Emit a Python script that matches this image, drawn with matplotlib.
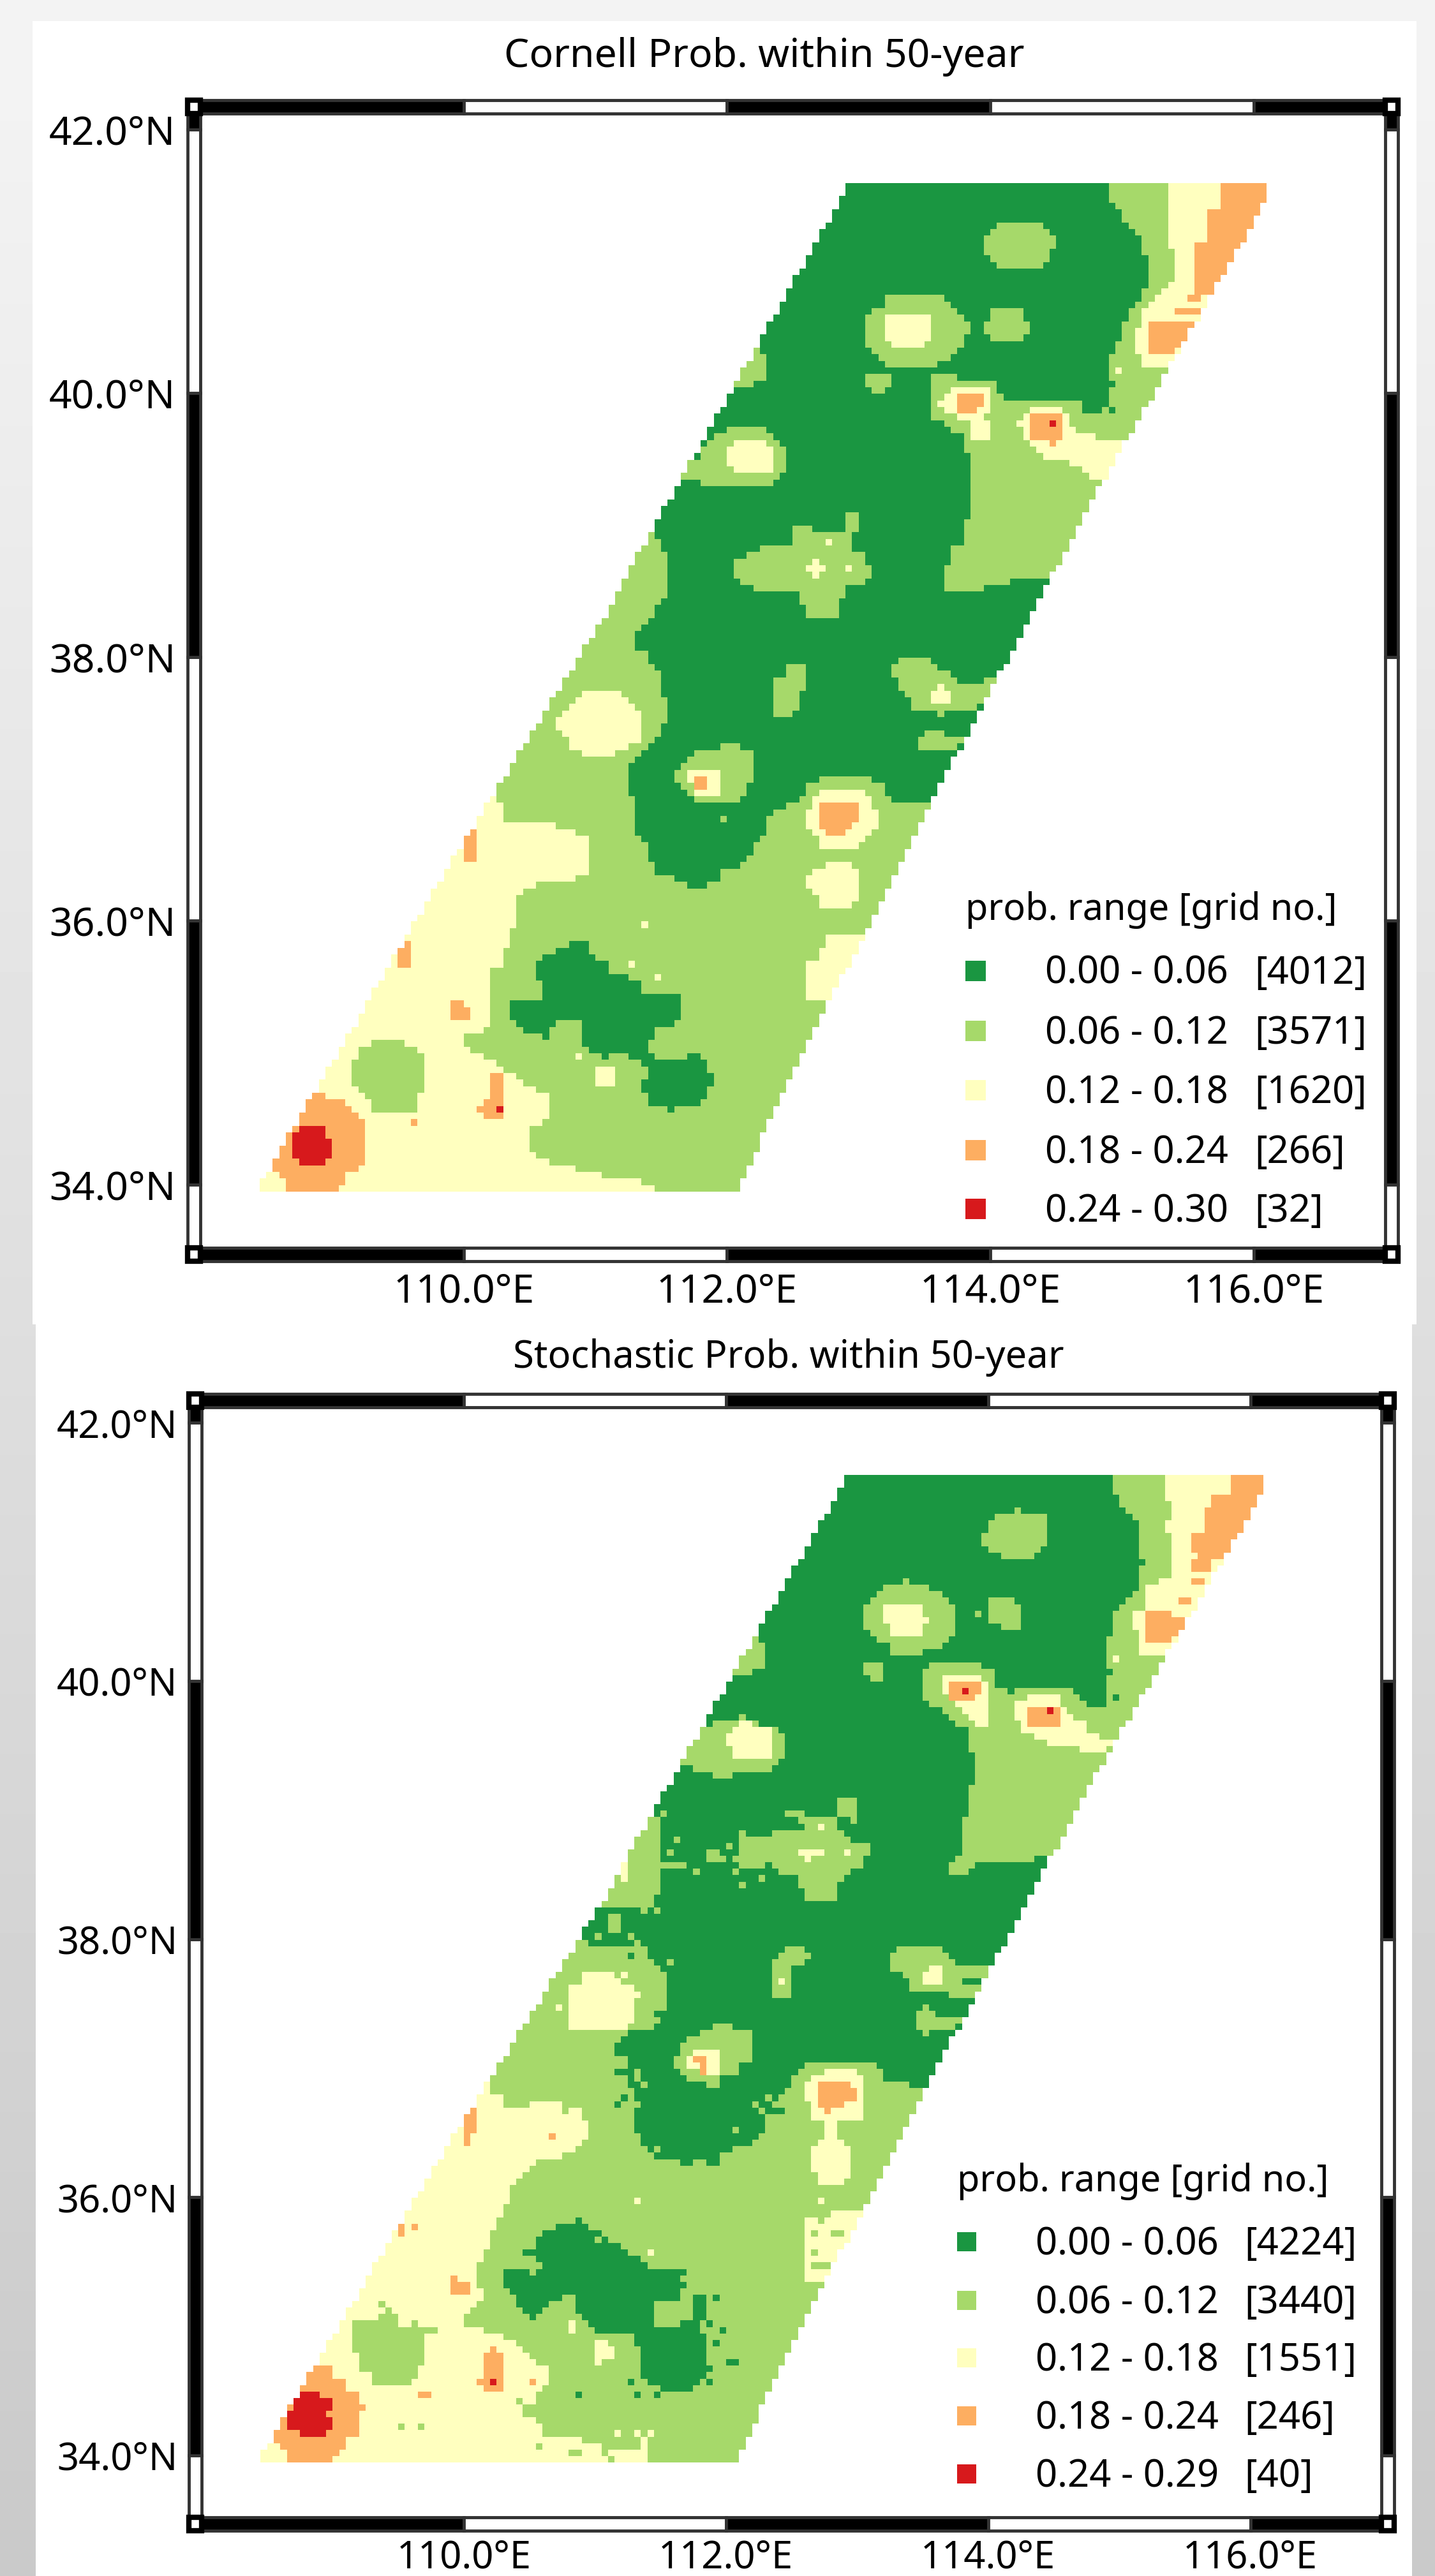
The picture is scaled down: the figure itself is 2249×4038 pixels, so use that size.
import numpy as np
import matplotlib
matplotlib.use("Agg")
import matplotlib.pyplot as plt
from matplotlib.colors import ListedColormap
from matplotlib.patches import Rectangle
from matplotlib.path import Path

plt.rcParams['font.family'] = ['Noto Sans', 'DejaVu Sans']

W, H = 2249, 4038

# probability classes: 0 darkest green ... 4 red
GREEN, LIGHT, YELLOW, ORANGE, RED = 0, 1, 2, 3, 4
CLASS_COLORS = ['#1a9641', '#a6d96a', '#ffffbf', '#fdae61', '#d7191c']

LON_TICKS = [110, 112, 114, 116]
LAT_TICKS = [34, 36, 38, 40, 42]
LON_LABELS = ['110.0°E', '112.0°E', '114.0°E', '116.0°E']
LAT_LABELS = ['34.0°N', '36.0°N', '38.0°N', '40.0°N', '42.0°N']

CORNELL_TITLE = 'Cornell Prob. within 50-year'
STOCH_TITLE = 'Stochastic Prob. within 50-year'
LEGEND_TITLE = 'prob. range [grid no.]'
CORNELL_RANGES = ['0.00 - 0.06', '0.06 - 0.12', '0.12 - 0.18', '0.18 - 0.24', '0.24 - 0.30']
CORNELL_COUNTS = ['[4012]', '[3571]', '[1620]', '[266]', '[32]']
STOCH_RANGES = ['0.00 - 0.06', '0.06 - 0.12', '0.12 - 0.18', '0.18 - 0.24', '0.24 - 0.29']
STOCH_COUNTS = ['[4224]', '[3440]', '[1551]', '[246]', '[40]']

# outline of the gridded area, lon/lat
DOMAIN = [(108.42, 33.94), (109.76, 36.21), (111.12, 38.39), (111.33, 38.78), (112.93, 41.59),
          (116.08, 41.59), (116.08, 41.43), (114.86, 39.34), (113.53, 36.86), (112.30, 34.44),
          (112.08, 33.94)]

# ---------- Cornell panel, regions ----------
C_YELLOW_MAIN = [(107.9, 33.9), (109.76, 36.93), (110.27, 36.93), (110.28, 36.81), (110.33, 36.75), (110.67, 36.73),
                 (110.83, 36.69), (110.92, 36.64), (110.96, 36.54), (110.96, 36.44), (110.92, 36.35), (110.83, 36.29),
                 (110.63, 36.29), (110.48, 36.24), (110.42, 36.18), (110.42, 35.95), (110.37, 35.92), (110.32, 35.78),
                 (110.27, 35.65), (110.18, 35.59), (110.18, 35.20), (110.12, 35.15), (110.02, 35.13), (109.98, 35.06),
                 (110.18, 34.95), (110.37, 34.84), (110.48, 34.75), (110.62, 34.69), (110.67, 34.62), (110.67, 34.49),
                 (110.49, 34.44), (110.48, 34.30), (110.64, 34.16), (111.12, 34.06), (111.38, 34.01), (111.53, 33.9)]
C_ORANGE_SW = [(108.89, 34.80), (108.93, 34.66), (109.06, 34.65), (109.15, 34.58), (109.23, 34.49), (109.27, 34.33),
               (109.23, 34.16), (109.13, 34.08), (109.02, 33.90), (108.73, 33.90), (108.57, 34.10), (108.57, 34.30),
               (108.63, 34.40), (108.68, 34.51), (108.78, 34.65), (108.87, 34.71)]
C_RED_SW = [(108.78, 34.45), (108.91, 34.45), (108.97, 34.35), (109.02, 34.29), (108.93, 34.15), (108.77, 34.15),
            (108.68, 34.27), (108.68, 34.35)]
C_LIGHT_OVAL = [(109.34, 35.09), (109.52, 35.09), (109.63, 35.03), (109.72, 34.94), (109.72, 34.76), (109.66, 34.66),
                (109.62, 34.55), (109.34, 34.55), (109.25, 34.66), (109.12, 34.85), (109.17, 34.96), (109.25, 35.05)]
C_ORANGE_A = [(109.52, 35.84), (109.58, 35.84), (109.58, 35.65), (109.52, 35.65)]
C_ORANGE_B = [(110.07, 36.69), (110.12, 36.69), (110.12, 36.44), (110.02, 36.44), (110.02, 36.40), (109.98, 36.40),
              (109.98, 36.54), (110.02, 36.64)]
C_ORANGE_C = [(109.92, 35.40), (110.01, 35.40), (110.01, 35.34), (110.07, 35.34), (110.07, 35.24), (109.92, 35.24)]
C_ORANGE_D = [(110.19, 34.80), (110.24, 34.84), (110.32, 34.80), (110.32, 34.49), (110.17, 34.49), (110.17, 34.54),
              (110.12, 34.54), (110.12, 34.59), (110.17, 34.59)]
C_YELLOW_E = [(110.98, 34.89), (111.12, 34.89), (111.17, 34.83), (111.17, 34.76), (110.98, 34.76)]
C_GREEN_SW = [(110.83, 35.84), (110.92, 35.84), (110.97, 35.75), (111.04, 35.71), (111.14, 35.60), (111.23, 35.59),
              (111.32, 35.54), (111.38, 35.44), (111.62, 35.44), (111.67, 35.39), (111.67, 35.25), (111.57, 35.20),
              (111.47, 35.20), (111.47, 35.10), (111.42, 35.07), (111.42, 35.00), (111.47, 34.95), (111.72, 34.95),
              (111.73, 35.00), (111.78, 35.00), (111.83, 34.95), (111.83, 34.85), (111.88, 34.84), (111.88, 34.75),
              (111.83, 34.74), (111.83, 34.64), (111.77, 34.59), (111.62, 34.59), (111.62, 34.55), (111.53, 34.55),
              (111.52, 34.59), (111.42, 34.60), (111.37, 34.70), (111.37, 34.79), (111.42, 34.80), (111.42, 34.89),
              (111.37, 34.90), (111.37, 34.95), (111.27, 34.95), (111.26, 35.00), (111.12, 35.00), (111.10, 34.95),
              (110.99, 35.00), (110.92, 35.05), (110.92, 35.20), (110.88, 35.25), (110.73, 35.25), (110.68, 35.20),
              (110.62, 35.10), (110.58, 35.10), (110.57, 35.15), (110.48, 35.15), (110.42, 35.20), (110.37, 35.25),
              (110.37, 35.39), (110.62, 35.39), (110.62, 35.54), (110.53, 35.55), (110.53, 35.64), (110.58, 35.69),
              (110.63, 35.75), (110.73, 35.79)]
C_GREEN_MAIN = [(110.9, 38.94), (111.42, 38.94), (111.52, 38.89), (111.52, 38.80), (111.57, 38.78), (111.57, 38.44),
                (111.48, 38.40), (111.42, 38.29), (111.32, 38.19), (111.32, 38.07), (111.37, 38.03), (111.42, 37.98),
                (111.43, 37.88), (111.48, 37.87), (111.52, 37.80), (111.52, 37.70), (111.57, 37.69), (111.57, 37.49),
                (111.52, 37.48), (111.52, 37.40), (111.42, 37.35), (111.37, 37.28), (111.27, 37.18), (111.27, 36.95),
                (111.32, 36.93), (111.32, 36.65), (111.37, 36.64), (111.38, 36.50), (111.42, 36.49), (111.43, 36.40),
                (111.48, 36.35), (111.58, 36.34), (111.58, 36.29), (111.67, 36.29), (111.69, 36.24), (111.83, 36.24),
                (111.83, 36.29), (111.93, 36.29), (111.98, 36.39), (112.08, 36.40), (112.12, 36.44), (112.22, 36.50),
                (112.22, 36.59), (112.27, 36.65), (112.32, 36.68), (112.32, 36.80), (112.38, 36.85), (112.53, 36.90),
                (112.57, 36.95), (112.62, 37.03), (112.72, 37.08), (113.08, 37.08), (113.08, 37.05), (113.18, 37.03),
                (113.23, 36.95), (113.29, 36.90), (113.53, 36.90), (115.0, 36.90), (115.0, 38.58), (114.13, 38.58),
                (114.13, 38.54), (113.97, 38.54), (113.97, 38.49), (113.67, 38.49), (113.67, 38.69), (113.72, 38.69),
                (113.72, 38.86), (113.78, 38.87), (113.78, 39.04), (113.83, 39.04), (113.83, 39.19), (113.87, 39.19),
                (113.87, 39.54), (113.78, 39.58), (113.78, 39.68), (113.69, 39.74), (113.59, 39.80), (113.54, 39.85),
                (113.53, 40.09), (113.59, 40.14), (114.01, 40.09), (114.13, 39.95), (114.66, 39.94), (114.73, 39.85),
                (114.85, 39.83), (114.88, 39.92), (114.88, 40.29), (114.97, 40.32), (114.98, 40.48), (115.05, 40.60),
                (115.12, 40.69), (115.18, 40.79), (115.18, 41.03), (115.12, 41.19), (115.03, 41.31), (114.93, 41.43),
                (114.88, 41.46), (114.88, 41.65), (112.0, 41.65)]
C_LIGHT_STRIP = [(112.23, 40.34), (112.31, 40.29), (112.31, 40.09), (112.22, 40.09), (112.22, 40.04), (112.0, 40.04),
                 (112.0, 40.25), (112.18, 40.25)]
C_LIGHT_A = [(114.08, 41.29), (114.37, 41.29), (114.48, 41.19), (114.48, 41.08), (114.43, 40.99), (114.32, 40.94),
             (114.08, 40.94), (113.97, 41.06), (113.97, 41.19)]
C_LIGHT_B = [(113.23, 40.73), (113.62, 40.73), (113.71, 40.65), (113.83, 40.54), (113.83, 40.43), (113.78, 40.34),
             (113.67, 40.25), (113.57, 40.19), (113.23, 40.19), (113.13, 40.29), (113.07, 40.35), (113.07, 40.59),
             (113.18, 40.65)]
C_YELLOW_B = [(113.23, 40.59), (113.52, 40.59), (113.57, 40.46), (113.49, 40.34), (113.28, 40.34), (113.18, 40.46)]
C_LIGHT_C = [(114.03, 40.63), (114.22, 40.63), (114.32, 40.51), (114.22, 40.39), (114.03, 40.39), (113.93, 40.51)]
C_LIGHT_D = [(113.07, 40.14), (113.23, 40.14), (113.23, 40.05), (113.16, 39.98), (113.13, 39.98), (113.07, 40.05)]
C_LIGHT_E = [(112.04, 39.74), (112.28, 39.74), (112.47, 39.58), (112.47, 39.44), (112.31, 39.29), (111.82, 39.29),
             (111.82, 39.35), (111.6, 39.35), (111.6, 39.49), (111.77, 39.49), (111.84, 39.64), (111.92, 39.68)]
C_YELLOW_E2 = [(112.06, 39.63), (112.31, 39.63), (112.37, 39.58), (112.37, 39.44), (112.28, 39.39), (112.08, 39.39),
               (111.97, 39.54)]
C_LIGHT_STAR = [(112.88, 39.08), (113.01, 39.08), (113.01, 38.95), (112.93, 38.89), (112.93, 38.80), (113.02, 38.78),
                (113.12, 38.67), (113.02, 38.54), (112.93, 38.54), (112.88, 38.44), (112.82, 38.29), (112.64, 38.29),
                (112.54, 38.44), (112.54, 38.49), (112.28, 38.49), (112.13, 38.54), (112.03, 38.67), (112.08, 38.74),
                (112.28, 38.84), (112.54, 38.84), (112.48, 38.89), (112.48, 38.98), (112.62, 38.98), (112.67, 38.94),
                (112.88, 38.94)]
C_LIGHT_G = [(112.48, 37.94), (112.61, 37.94), (112.61, 37.80), (112.54, 37.73), (112.52, 37.54), (112.37, 37.54),
             (112.37, 37.83), (112.43, 37.84)]
C_LIGHT_H = [(113.33, 37.99), (113.52, 37.99), (113.64, 37.89), (113.79, 37.81), (114.1, 37.83), (113.93, 37.64),
             (113.88, 37.60), (113.67, 37.60), (113.67, 37.54), (113.59, 37.54), (113.57, 37.60), (113.42, 37.60),
             (113.37, 37.69), (113.28, 37.75), (113.27, 37.94)]
C_YELLOW_H = [(113.54, 37.73), (113.59, 37.78), (113.64, 37.78), (113.64, 37.73), (113.72, 37.73), (113.72, 37.64),
              (113.54, 37.64)]
C_LIGHT_I = [(113.49, 37.44), (113.62, 37.44), (113.64, 37.40), (113.9, 37.40), (113.72, 37.30), (113.49, 37.30),
             (113.43, 37.36)]
C_LIGHT_J = [(111.94, 37.34), (112.07, 37.34), (112.09, 37.29), (112.17, 37.28), (112.22, 37.23), (112.22, 37.05),
             (112.17, 37.03), (112.12, 36.95), (112.08, 36.90), (111.93, 36.90), (111.91, 36.85), (111.89, 36.85),
             (111.88, 36.90), (111.73, 36.90), (111.72, 36.95), (111.67, 37.00), (111.62, 37.05), (111.62, 37.13),
             (111.67, 37.18), (111.72, 37.23), (111.73, 37.29), (111.93, 37.29)]
C_YELLOW_J = [(111.72, 37.14), (111.96, 37.14), (111.96, 37.00), (111.91, 36.95), (111.78, 36.95), (111.72, 37.05)]
C_ORANGE_J = [(111.77, 37.09), (111.87, 37.09), (111.87, 36.94), (111.83, 36.94), (111.83, 37.00), (111.77, 37.00)]
C_YELLOW_K = [(112.72, 37.00), (113.03, 37.00), (113.13, 36.84), (113.13, 36.71), (113.03, 36.59), (112.97, 36.54),
              (112.73, 36.54), (112.62, 36.71), (112.62, 36.86), (112.67, 36.95)]
C_ORANGE_K = [(112.72, 36.88), (112.98, 36.88), (112.98, 36.84), (113.02, 36.84), (113.02, 36.75), (112.97, 36.74),
              (112.92, 36.70), (112.92, 36.65), (112.77, 36.65), (112.77, 36.70), (112.72, 36.71)]
C_YELLOW_L = [(112.77, 36.44), (112.93, 36.44), (113.02, 36.34), (113.02, 36.21), (112.92, 36.10), (112.73, 36.10),
              (112.62, 36.26), (112.62, 36.34)]
C_YELLOW_M = [(112.62, 35.70), (112.68, 35.71), (112.72, 35.80), (112.78, 35.89), (113.3, 35.89), (113.3, 35.39),
              (112.62, 35.39)]
C_YELLOW_N = [(110.94, 37.74), (111.17, 37.74), (111.27, 37.65), (111.37, 37.59), (111.37, 37.44), (111.32, 37.35),
              (111.23, 37.30), (111.12, 37.24), (110.92, 37.24), (110.92, 37.29), (110.83, 37.30), (110.72, 37.44),
              (110.72, 37.54), (110.83, 37.65), (110.88, 37.69)]
C_YELLOW_NE = [(115.33, 41.65), (115.33, 41.09), (115.38, 41.08), (115.38, 40.85), (115.24, 40.74), (115.19, 40.66),
               (115.14, 40.54), (115.08, 40.45), (115.08, 40.34), (115.17, 40.20), (115.34, 40.19), (116.09, 40.19),
               (116.43, 41.65)]
C_ORANGE_NE = [(115.73, 41.65), (115.73, 41.39), (115.63, 41.37), (115.63, 41.14), (115.57, 41.12), (115.57, 40.89),
               (115.53, 40.88), (115.53, 40.74), (116.43, 40.74), (116.43, 41.65)]
C_ORANGE_BAR1 = [(115.48, 40.73), (115.62, 40.73), (115.62, 40.69), (115.48, 40.69)]
C_ORANGE_BAR2 = [(115.42, 40.64), (115.58, 40.64), (115.58, 40.59), (115.42, 40.59)]
C_ORANGE_NE2 = [(115.23, 40.53), (115.54, 40.53), (115.48, 40.38), (115.38, 40.29), (115.24, 40.29), (115.19, 40.37),
                (115.19, 40.48)]
C_YELLOW_O = [(113.67, 40.00), (113.78, 40.06), (113.95, 40.06), (114.02, 39.98), (114.02, 39.84), (113.95, 39.81),
              (114.02, 39.72), (114.02, 39.65), (113.88, 39.65), (113.83, 39.80), (113.67, 39.84), (113.62, 39.89),
              (113.62, 39.95)]
C_ORANGE_O = [(113.73, 39.98), (113.97, 39.98), (113.97, 39.89), (113.91, 39.88), (113.91, 39.84), (113.73, 39.84)]
C_YELLOW_P = [(114.32, 39.88), (114.54, 39.89), (114.64, 39.74), (114.73, 39.68), (115.0, 39.63), (114.90, 39.34),
              (114.75, 39.35), (114.68, 39.43), (114.54, 39.50), (114.42, 39.51), (114.24, 39.65), (114.22, 39.80)]
C_ORANGE_P = [(114.32, 39.83), (114.53, 39.83), (114.57, 39.78), (114.57, 39.66), (114.52, 39.65), (114.52, 39.59),
              (114.48, 39.59), (114.47, 39.64), (114.32, 39.65)]
C_YELLOW_Q = [(114.94, 40.18), (115.02, 40.18), (115.02, 40.13), (114.94, 40.13)]

C_LAYERS = [(YELLOW, C_YELLOW_MAIN), (ORANGE, C_ORANGE_SW), (RED, C_RED_SW), (LIGHT, C_LIGHT_OVAL),
            (ORANGE, C_ORANGE_A), (ORANGE, C_ORANGE_B), (ORANGE, C_ORANGE_C), (ORANGE, C_ORANGE_D),
            (YELLOW, C_YELLOW_E), (GREEN, C_GREEN_MAIN), (GREEN, C_GREEN_SW), (LIGHT, C_LIGHT_STRIP),
            (LIGHT, C_LIGHT_A), (LIGHT, C_LIGHT_B), (YELLOW, C_YELLOW_B), (LIGHT, C_LIGHT_C), (LIGHT, C_LIGHT_D),
            (LIGHT, C_LIGHT_E), (YELLOW, C_YELLOW_E2), (LIGHT, C_LIGHT_STAR), (LIGHT, C_LIGHT_G), (LIGHT, C_LIGHT_H),
            (YELLOW, C_YELLOW_H), (LIGHT, C_LIGHT_I), (LIGHT, C_LIGHT_J), (YELLOW, C_YELLOW_J), (ORANGE, C_ORANGE_J),
            (YELLOW, C_YELLOW_K), (ORANGE, C_ORANGE_K), (YELLOW, C_YELLOW_L), (YELLOW, C_YELLOW_M), (YELLOW, C_YELLOW_N),
            (YELLOW, C_YELLOW_NE), (ORANGE, C_ORANGE_NE), (ORANGE, C_ORANGE_BAR1), (ORANGE, C_ORANGE_BAR2),
            (ORANGE, C_ORANGE_NE2), (YELLOW, C_YELLOW_O), (ORANGE, C_ORANGE_O), (YELLOW, C_YELLOW_P), (ORANGE, C_ORANGE_P),
            (YELLOW, C_YELLOW_Q)]
C_CELLS = [(YELLOW, [(111.35, 35.97), (111.25, 35.67), (111.45, 35.57), (110.85, 34.97), (112.75, 38.87), (112.94, 38.67),
                     (112.65, 38.67), (112.60, 38.67), (112.70, 38.67), (112.65, 38.72), (112.65, 38.62)]),
           (ORANGE, [(109.64, 34.47)]),
           (RED, [(110.25, 34.57), (114.45, 39.76)]),
           (LIGHT, [(111.95, 36.77)]),
           (GREEN, [(114.90, 40.06), (114.90, 39.86)])]

# ---------- Stochastic panel ----------
S_YELLOW_MAIN = [(107.9, 33.9), (109.76, 36.89), (110.19, 36.89), (110.21, 36.79), (110.31, 36.77), (110.31, 36.70),
                 (110.46, 36.69), (110.52, 36.74), (110.72, 36.73), (110.76, 36.66), (110.86, 36.69), (110.95, 36.58),
                 (110.95, 36.46), (110.91, 36.41), (110.83, 36.35), (110.70, 36.30), (110.69, 36.24), (110.66, 36.30),
                 (110.53, 36.26), (110.46, 36.18), (110.39, 36.15), (110.33, 35.99), (110.31, 35.86), (110.23, 35.79),
                 (110.21, 35.70), (110.12, 35.49), (110.11, 35.29), (110.16, 35.33), (110.16, 35.25), (110.07, 35.13),
                 (110.00, 35.08), (109.98, 34.99), (110.12, 34.98), (110.31, 34.93), (110.49, 34.77), (110.63, 34.67),
                 (110.65, 34.56), (110.57, 34.48), (110.55, 34.39), (110.47, 34.38), (110.47, 34.30), (110.57, 34.25),
                 (110.61, 34.16), (110.90, 34.13), (111.06, 34.06), (111.42, 34.04), (111.42, 33.9)]
S_ORANGE_SW = [(108.88, 34.79), (108.91, 34.70), (109.00, 34.70), (109.02, 34.61), (109.11, 34.60), (109.12, 34.49),
               (109.21, 34.49), (109.21, 34.40), (109.26, 34.38), (109.21, 34.34), (109.21, 34.16), (109.12, 34.14),
               (109.10, 34.05), (109.02, 34.00), (109.02, 33.90), (108.67, 33.90), (108.65, 34.04), (108.56, 34.11),
               (108.56, 34.28), (108.62, 34.39), (108.65, 34.50), (108.76, 34.57), (108.76, 34.66), (108.86, 34.70)]
S_RED_SW = [(108.71, 34.55), (108.76, 34.55), (108.76, 34.47), (108.86, 34.47), (108.88, 34.50), (108.92, 34.47),
            (108.92, 34.45), (109.01, 34.43), (109.01, 34.34), (108.96, 34.32), (109.01, 34.20), (108.92, 34.16),
            (108.78, 34.14), (108.74, 34.20), (108.65, 34.21), (108.65, 34.30), (108.71, 34.39)]
S_LIGHT_OVAL = [(109.42, 35.13), (109.46, 35.09), (109.54, 35.00), (109.66, 35.05), (109.71, 34.93), (109.71, 34.81),
                (109.67, 34.67), (109.60, 34.55), (109.32, 34.55), (109.28, 34.64), (109.20, 34.67), (109.16, 34.85),
                (109.11, 34.88), (109.16, 34.95), (109.16, 35.05), (109.34, 35.05)]
S_ORANGE_A = [(109.52, 35.84), (109.56, 35.84), (109.56, 35.70), (109.52, 35.70)]
S_ORANGE_B = [(110.08, 36.69), (110.11, 36.69), (110.11, 36.49), (110.06, 36.49), (110.06, 36.40), (110.01, 36.40),
              (110.01, 36.63)]
S_ORANGE_C = [(109.92, 35.39), (109.96, 35.39), (109.96, 35.34), (110.06, 35.34), (110.06, 35.25), (109.92, 35.25)]
S_ORANGE_D = [(110.17, 34.78), (110.23, 34.84), (110.30, 34.78), (110.31, 34.49), (110.17, 34.50), (110.17, 34.54),
              (110.12, 34.55), (110.12, 34.58), (110.17, 34.60)]
S_YELLOW_E = [(110.98, 34.83), (111.04, 34.89), (111.16, 34.83), (111.16, 34.76), (111.06, 34.76), (111.04, 34.70),
              (110.98, 34.76)]
S_GREEN_SW = [(110.90, 35.84), (110.94, 35.78), (111.06, 35.74), (111.10, 35.64), (111.26, 35.60), (111.26, 35.54),
              (111.36, 35.53), (111.38, 35.45), (111.58, 35.45), (111.58, 35.49), (111.66, 35.45), (111.66, 35.20),
              (111.46, 35.17), (111.46, 34.99), (111.62, 34.99), (111.66, 35.04), (111.79, 35.03), (111.81, 34.99),
              (111.87, 34.85), (111.87, 34.61), (111.79, 34.54), (111.69, 34.49), (111.54, 34.50), (111.36, 34.60),
              (111.36, 34.72), (111.28, 34.95), (111.04, 34.95), (110.94, 35.00), (110.86, 35.11), (110.86, 35.25),
              (110.76, 35.25), (110.65, 35.15), (110.54, 35.05), (110.43, 35.11), (110.39, 35.23), (110.31, 35.32),
              (110.31, 35.45), (110.49, 35.45), (110.51, 35.40), (110.61, 35.44), (110.61, 35.50), (110.47, 35.57),
              (110.55, 35.63), (110.59, 35.73), (110.78, 35.80)]
S_GREEN_BAR = [(111.77, 35.24), (111.83, 35.24), (111.83, 35.09), (111.88, 35.05), (111.88, 34.99), (111.77, 35.05)]
S_GREEN_MAIN = [(114.93, 41.68), (114.97, 41.43), (115.05, 41.33), (115.13, 41.25), (115.13, 41.05), (115.17, 40.99),
                (115.17, 40.73), (115.13, 40.72), (115.07, 40.62), (114.97, 40.54), (114.97, 40.39), (114.88, 40.29),
                (114.88, 39.79), (114.77, 39.79), (114.68, 39.91), (114.62, 39.95), (114.21, 39.95), (114.17, 39.91),
                (114.07, 39.95), (114.03, 40.07), (113.90, 40.14), (113.56, 40.14), (113.52, 40.09), (113.52, 39.84),
                (113.64, 39.79), (113.72, 39.69), (113.86, 39.60), (113.87, 39.44), (113.91, 39.31), (113.91, 39.22),
                (113.84, 39.13), (113.83, 38.95), (113.78, 38.87), (113.78, 38.65), (113.72, 38.60), (113.72, 38.50),
                (113.87, 38.50), (113.89, 38.59), (114.23, 38.59), (114.42, 38.64), (115.0, 38.64), (115.0, 36.85),
                (113.53, 36.85), (113.21, 36.90), (113.16, 37.04), (112.63, 37.06), (112.60, 37.00), (112.50, 36.94),
                (112.50, 36.87), (112.44, 36.79), (112.30, 36.63), (112.30, 36.55), (112.26, 36.46), (112.17, 36.41),
                (112.06, 36.39), (112.05, 36.35), (111.96, 36.36), (111.92, 36.24), (111.88, 36.24), (111.86, 36.30),
                (111.77, 36.30), (111.76, 36.24), (111.67, 36.24), (111.65, 36.30), (111.47, 36.30), (111.42, 36.35),
                (111.34, 36.41), (111.31, 36.58), (111.27, 36.63), (111.31, 36.79), (111.27, 36.87), (111.27, 36.94),
                (111.23, 37.09), (111.16, 37.12), (111.16, 37.18), (111.31, 37.30), (111.42, 37.30), (111.52, 37.41),
                (111.57, 37.57), (111.57, 37.69), (111.52, 37.76), (111.43, 37.80), (111.42, 37.91), (111.36, 37.97),
                (111.36, 38.03), (111.27, 37.95), (111.10, 37.95), (110.94, 37.97), (110.6, 38.08), (110.7, 38.24),
                (111.41, 38.24), (111.47, 38.28), (111.47, 38.43), (111.52, 38.54), (111.52, 38.94), (110.9, 38.94),
                (112.0, 41.68)]
S_LIGHT_A = [(114.07, 41.29), (114.23, 41.33), (114.26, 41.29), (114.42, 41.29), (114.47, 41.18), (114.47, 41.10),
             (114.42, 41.05), (114.32, 40.95), (114.17, 40.95), (114.03, 41.00), (113.97, 41.06), (113.97, 41.14),
             (114.03, 41.24)]
S_LIGHT_B = [(113.38, 40.78), (113.41, 40.72), (113.56, 40.72), (113.72, 40.62), (113.76, 40.53), (113.76, 40.43),
             (113.72, 40.34), (113.65, 40.25), (113.33, 40.19), (113.27, 40.19), (113.22, 40.29), (113.11, 40.34),
             (113.06, 40.40), (113.06, 40.58), (113.14, 40.66), (113.22, 40.72)]
S_YELLOW_B = [(113.22, 40.58), (113.47, 40.58), (113.53, 40.47), (113.47, 40.36), (113.27, 40.34), (113.22, 40.45)]
S_LIGHT_C = [(114.02, 40.64), (114.21, 40.64), (114.26, 40.56), (114.26, 40.45), (114.21, 40.39), (114.12, 40.39),
             (114.10, 40.43), (114.02, 40.45)]
S_LIGHT_D = [(113.07, 40.14), (113.21, 40.14), (113.21, 40.07), (113.16, 39.98), (113.13, 39.98), (113.07, 40.06)]
S_LIGHT_E = [(111.92, 39.69), (112.07, 39.69), (112.12, 39.74), (112.16, 39.69), (112.37, 39.65), (112.47, 39.58),
             (112.47, 39.44), (112.41, 39.39), (112.32, 39.30), (112.07, 39.30), (112.06, 39.25), (111.93, 39.25),
             (111.82, 39.30), (111.6, 39.39), (111.6, 39.52), (111.82, 39.63)]
S_YELLOW_E2 = [(112.12, 39.69), (112.37, 39.63), (112.37, 39.46), (112.32, 39.39), (112.07, 39.39), (112.01, 39.50),
               (112.02, 39.60)]
S_LIGHT_STAR = [(112.61, 38.94), (112.82, 38.94), (112.91, 38.81), (112.97, 38.73), (113.08, 38.73), (113.12, 38.67),
                (113.08, 38.64), (113.02, 38.54), (112.91, 38.50), (112.82, 38.39), (112.86, 38.35), (112.82, 38.29),
                (112.61, 38.29), (112.57, 38.40), (112.52, 38.50), (112.41, 38.50), (112.32, 38.59), (112.32, 38.54),
                (112.12, 38.54), (112.12, 38.83), (112.32, 38.78), (112.37, 38.83), (112.57, 38.83)]
S_LIGHT_STAR2 = [(112.87, 39.09), (113.02, 39.09), (113.02, 38.95), (112.95, 38.89), (112.92, 38.95), (112.87, 38.95)]
S_LIGHT_STAR3 = [(112.47, 38.98), (112.61, 38.98), (112.61, 38.95), (112.55, 38.89), (112.52, 38.95), (112.47, 38.95)]
S_LIGHT_RECT = [(111.84, 38.68), (111.96, 38.68), (111.96, 38.59), (111.84, 38.59)]
S_LIGHT_G = [(112.47, 37.93), (112.61, 37.93), (112.61, 37.80), (112.52, 37.79), (112.52, 37.55), (112.37, 37.55),
             (112.37, 37.83), (112.43, 37.90)]
S_LIGHT_H = [(113.31, 37.93), (113.47, 37.93), (113.50, 37.98), (113.53, 37.93), (113.62, 37.93), (113.78, 37.79),
             (114.1, 37.79), (113.87, 37.55), (113.44, 37.60), (113.34, 37.71), (113.27, 37.77), (113.27, 37.90)]
S_GREEN_H = [(113.78, 37.70), (114.0, 37.70), (114.0, 37.65), (113.78, 37.65)]
S_YELLOW_H = [(113.52, 37.74), (113.56, 37.79), (113.62, 37.79), (113.66, 37.74), (113.66, 37.64), (113.52, 37.64)]
S_LIGHT_I = [(113.47, 37.44), (113.53, 37.49), (113.56, 37.44), (113.62, 37.39), (113.9, 37.39), (113.72, 37.29),
             (113.56, 37.29), (113.56, 37.24), (113.53, 37.24), (113.47, 37.29)]
S_LIGHT_J = [(111.94, 37.34), (112.01, 37.34), (112.06, 37.29), (112.17, 37.29), (112.22, 37.22), (112.22, 37.05),
             (112.11, 37.03), (112.11, 36.94), (111.97, 36.94), (111.92, 36.85), (111.88, 36.85), (111.86, 36.89),
             (111.71, 36.89), (111.67, 36.95), (111.62, 37.01), (111.62, 37.08), (111.67, 37.11), (111.67, 37.20),
             (111.71, 37.24), (111.81, 37.24), (111.82, 37.29)]
S_YELLOW_J = [(111.76, 37.14), (111.96, 37.14), (111.96, 36.94), (111.81, 36.94), (111.77, 36.98), (111.71, 37.02),
              (111.71, 37.08)]
S_ORANGE_J = [(111.76, 37.08), (111.87, 37.08), (111.87, 36.94), (111.82, 36.94), (111.82, 37.04), (111.76, 37.04)]
S_YELLOW_K = [(112.77, 36.98), (112.96, 36.98), (113.07, 36.94), (113.07, 36.71), (113.01, 36.59), (112.85, 36.59),
              (112.84, 36.53), (112.87, 36.45), (112.96, 36.35), (112.96, 36.15), (112.85, 36.10), (112.72, 36.10),
              (112.67, 36.18), (112.67, 36.37), (112.76, 36.47), (112.77, 36.58), (112.67, 36.61), (112.62, 36.74),
              (112.62, 36.89), (112.70, 36.94)]
S_ORANGE_K = [(112.71, 36.88), (112.96, 36.88), (112.97, 36.83), (113.01, 36.83), (113.01, 36.74), (112.96, 36.74),
              (112.81, 36.69), (112.81, 36.65), (112.76, 36.65), (112.76, 36.69), (112.71, 36.70)]
S_YELLOW_N = [(110.91, 37.73), (111.16, 37.73), (111.22, 37.65), (111.31, 37.62), (111.31, 37.36), (111.18, 37.28),
              (110.82, 37.30), (110.77, 37.38), (110.81, 37.48), (110.81, 37.62), (110.91, 37.68)]
S_YELLOW_M = [(112.62, 35.84), (112.76, 35.80), (112.80, 35.88), (113.05, 35.90), (113.3, 35.90), (113.3, 35.35),
              (112.62, 35.35)]
S_LIGHT_M1 = [(112.63, 35.49), (112.81, 35.49), (112.81, 35.45), (112.63, 35.45)]
S_LIGHT_M2 = [(112.78, 35.74), (112.92, 35.74), (112.92, 35.70), (112.78, 35.70)]
S_LIGHT_BUMP = [(111.11, 38.19), (111.20, 38.19), (111.20, 38.05), (111.11, 38.05)]
S_YELLOW_NE = [(115.33, 41.68), (115.33, 41.44), (115.42, 41.36), (115.37, 41.25), (115.38, 41.05), (115.38, 40.80),
               (115.21, 40.72), (115.18, 40.54), (115.12, 40.53), (115.12, 40.42), (115.18, 40.20), (115.37, 40.18),
               (115.98, 40.18), (116.3, 41.68)]
S_ORANGE_NE = [(115.83, 41.68), (115.83, 41.43), (115.72, 41.43), (115.67, 41.33), (115.67, 41.24), (115.63, 41.14),
               (115.57, 41.13), (115.57, 40.99), (115.63, 40.94), (115.77, 40.94), (116.3, 40.94), (116.3, 41.68)]
S_ORANGE_N1 = [(115.63, 41.43), (115.67, 41.43), (115.67, 41.33), (115.63, 41.33)]
S_ORANGE_N2 = [(115.57, 40.93), (115.72, 40.93), (115.72, 40.84), (115.57, 40.84)]
S_ORANGE_N3 = [(115.53, 40.78), (115.67, 40.78), (115.67, 40.73), (115.53, 40.73)]
S_ORANGE_N4 = [(115.43, 40.64), (115.57, 40.64), (115.57, 40.59), (115.43, 40.59)]
S_ORANGE_N5 = [(115.21, 40.53), (115.36, 40.53), (115.48, 40.48), (115.48, 40.40), (115.38, 40.29), (115.22, 40.29),
               (115.18, 40.37), (115.18, 40.48)]
S_LIGHT_NE = [(114.88, 41.60), (114.92, 41.60), (114.92, 41.43), (114.88, 41.43)]
S_YELLOW_O = [(113.67, 40.02), (113.97, 40.02), (114.02, 39.96), (114.02, 39.88), (113.97, 39.79), (114.02, 39.76),
              (114.02, 39.65), (113.89, 39.65), (113.86, 39.71), (113.76, 39.79), (113.72, 39.85), (113.62, 39.93)]
S_ORANGE_O = [(113.72, 39.98), (113.97, 39.98), (113.97, 39.89), (113.92, 39.89), (113.92, 39.84), (113.72, 39.84)]
S_YELLOW_P = [(114.31, 39.88), (114.52, 39.88), (114.62, 39.76), (114.71, 39.69), (114.78, 39.60), (114.93, 39.53),
              (114.88, 39.43), (114.74, 39.46), (114.65, 39.49), (114.46, 39.50), (114.28, 39.61), (114.22, 39.69),
              (114.22, 39.82)]
S_ORANGE_P = [(114.32, 39.79), (114.56, 39.79), (114.56, 39.64), (114.32, 39.64)]
S_YELLOW_Q = [(114.93, 40.19), (115.02, 40.19), (115.02, 40.14), (114.93, 40.14)]
S_YELLOW_STRIP = [(111.22, 38.59), (111.26, 38.59), (111.26, 38.44), (111.22, 38.44)]

S_LAYERS = [(YELLOW, S_YELLOW_MAIN), (ORANGE, S_ORANGE_SW), (RED, S_RED_SW), (LIGHT, S_LIGHT_OVAL),
            (ORANGE, S_ORANGE_A), (ORANGE, S_ORANGE_B), (ORANGE, S_ORANGE_C), (ORANGE, S_ORANGE_D),
            (YELLOW, S_YELLOW_E), (GREEN, S_GREEN_MAIN), (GREEN, S_GREEN_SW), (GREEN, S_GREEN_BAR), (LIGHT, C_LIGHT_STRIP),
            (LIGHT, S_LIGHT_A), (LIGHT, S_LIGHT_B), (YELLOW, S_YELLOW_B), (LIGHT, S_LIGHT_C), (LIGHT, S_LIGHT_D),
            (LIGHT, S_LIGHT_E), (YELLOW, S_YELLOW_E2), (LIGHT, S_LIGHT_STAR), (LIGHT, S_LIGHT_STAR2), (LIGHT, S_LIGHT_STAR3),
            (LIGHT, S_LIGHT_RECT), (LIGHT, S_LIGHT_G), (LIGHT, S_LIGHT_H), (GREEN, S_GREEN_H), (YELLOW, S_YELLOW_H),
            (LIGHT, S_LIGHT_I), (LIGHT, S_LIGHT_J), (YELLOW, S_YELLOW_J), (ORANGE, S_ORANGE_J), (YELLOW, S_YELLOW_K),
            (ORANGE, S_ORANGE_K), (YELLOW, S_YELLOW_N), (YELLOW, S_YELLOW_M), (LIGHT, S_LIGHT_M1), (LIGHT, S_LIGHT_M2),
            (LIGHT, S_LIGHT_BUMP), (YELLOW, S_YELLOW_NE), (ORANGE, S_ORANGE_NE), (ORANGE, S_ORANGE_N1), (ORANGE, S_ORANGE_N2),
            (ORANGE, S_ORANGE_N3), (ORANGE, S_ORANGE_N4), (ORANGE, S_ORANGE_N5), (LIGHT, S_LIGHT_NE), (YELLOW, S_YELLOW_O),
            (ORANGE, S_ORANGE_O), (YELLOW, S_YELLOW_P), (ORANGE, S_ORANGE_P), (YELLOW, S_YELLOW_Q), (YELLOW, S_YELLOW_STRIP)]
S_CELLS = [(LIGHT, [(113.94, 40.51), (111.54, 38.97), (111.64, 38.76), (111.57, 38.67), (111.54, 38.57), (111.59, 38.57),
                    (111.64, 38.57), (111.68, 38.57), (111.79, 38.52), (111.99, 38.62), (112.05, 38.62), (112.04, 38.72),
                    (112.05, 38.52), (112.10, 38.42), (112.29, 38.46), (111.48, 38.42), (111.48, 38.35), (111.49, 38.22),
                    (111.39, 38.22), (112.64, 37.86), (111.03, 35.67), (111.34, 36.94), (111.34, 36.99), (111.38, 36.87),
                    (111.34, 36.72), (111.34, 36.47), (111.49, 36.37), (112.09, 36.51), (112.24, 36.72), (112.29, 36.67),
                    (112.34, 36.77), (112.39, 36.72), (111.49, 38.21), (111.55, 37.81), (115.39, 41.37), (115.39, 41.02),
                    (114.65, 39.47), (114.70, 39.41), (109.54, 34.23), (109.69, 34.23), (110.43, 34.42), (109.36, 35.18),
                    (109.72, 34.97), (109.77, 34.97), (110.82, 34.03), (110.87, 34.03), (110.59, 34.07), (111.05, 34.05),
                    (111.05, 34.00), (111.10, 33.96), (111.27, 38.01), (111.03, 38.01), (109.75, 34.95), (112.69, 35.72),
                    (112.69, 35.57), (110.23, 35.08)]),
           (YELLOW, [(112.74, 38.87), (112.57, 38.67), (112.62, 38.67), (112.67, 38.67), (112.71, 38.67), (112.64, 38.62),
                     (112.94, 38.66), (112.44, 37.67), (111.24, 37.72), (111.34, 37.57), (110.74, 37.47), (111.44, 35.57),
                     (111.34, 35.97), (112.74, 35.97), (110.84, 34.96), (110.84, 35.00), (112.73, 35.97), (111.19, 34.18),
                     (111.33, 34.18), (111.44, 34.18), (111.36, 34.08), (111.36, 34.13)]),
           (ORANGE, [(109.64, 35.77), (110.54, 34.57), (109.65, 34.47), (109.70, 34.47), (110.69, 36.47)]),
           (RED, [(110.24, 34.57), (113.84, 39.91), (114.45, 39.76)]),
           (GREEN, [(111.94, 35.22), (111.99, 34.97), (111.91, 34.88), (112.00, 34.73), (112.05, 34.73), (111.89, 34.68),
                    (111.79, 34.62), (111.89, 34.57), (111.66, 34.53), (111.48, 34.47), (111.34, 34.47), (110.89, 34.47),
                    (111.28, 34.57), (111.69, 35.43), (111.69, 35.32), (111.19, 36.72), (111.24, 36.77), (111.19, 36.97),
                    (111.24, 36.97), (111.28, 37.87), (111.49, 37.41), (112.38, 36.67), (112.43, 36.67), (115.14, 41.16),
                    (115.19, 40.91), (114.90, 40.07), (114.95, 39.86)])]

# 0.05 degree grid
CELL = 0.05
LON_EDGES = np.arange(108.40, 116.15, CELL)
LAT_EDGES = np.arange(33.945, 41.60, CELL)


def rasterize(layers, cell_lists):
    lon_c = (LON_EDGES[:-1] + LON_EDGES[1:]) / 2
    lat_c = (LAT_EDGES[:-1] + LAT_EDGES[1:]) / 2
    xx, yy = np.meshgrid(lon_c, lat_c)
    pts = np.column_stack([xx.ravel(), yy.ravel()])
    grid = np.full(xx.shape, LIGHT)
    for cls, poly in layers:
        mask = Path(poly + [poly[0]]).contains_points(pts).reshape(xx.shape)
        grid[mask] = cls
    for cls, cells in cell_lists:
        for lon, lat in cells:
            i = int(np.argmin(np.abs(lat_c - lat)))
            j = int(np.argmin(np.abs(lon_c - lon)))
            grid[i, j] = cls
    inside = Path(DOMAIN + [DOMAIN[0]]).contains_points(pts).reshape(xx.shape)
    return np.ma.masked_where(~inside, grid)


def px_rect(fig, x0, y0, x1, y1, **kw):
    fig.add_artist(Rectangle((x0 / W, 1 - y1 / H), (x1 - x0) / W, (y1 - y0) / H,
                             transform=fig.transFigure, **kw))


def draw_frame(ax, wx, wy):
    lon_stops = [108, 110, 112, 114, 116, 117]
    lat_stops = [33.52, 34, 36, 38, 40, 42, 42.12]
    for k in range(len(lon_stops) - 1):
        c = 'black' if k % 2 == 0 else 'white'
        for y in (33.52 - wy, 42.12):
            ax.add_patch(Rectangle((lon_stops[k], y), lon_stops[k + 1] - lon_stops[k], wy, facecolor=c,
                                   edgecolor='#333333', lw=3.5, clip_on=False, zorder=5))
    for k in range(len(lat_stops) - 1):
        c = 'white' if k % 2 == 0 else 'black'
        for x in (108 - wx, 117):
            ax.add_patch(Rectangle((x, lat_stops[k]), wx, lat_stops[k + 1] - lat_stops[k], facecolor=c,
                                   edgecolor='#333333', lw=3.5, clip_on=False, zorder=5))
    for x in (108 - wx, 117):
        for y in (33.52 - wy, 42.12):
            ax.add_patch(Rectangle((x, y), wx, wy, facecolor='white', edgecolor='black', lw=6,
                                   clip_on=False, zorder=6))


def draw_panel(fig, box, grid, title, title_xy, ranges, counts, legend, tick_size, xpad, ypad):
    left, top, right, bottom = box
    ax = fig.add_axes([left / W, 1 - bottom / H, (right - left) / W, (bottom - top) / H])
    cmap = ListedColormap(CLASS_COLORS)
    ax.pcolormesh(LON_EDGES, LAT_EDGES, grid, cmap=cmap, vmin=-0.5, vmax=4.5, shading='flat', antialiased=False)
    ax.set_xlim(108, 117)
    ax.set_ylim(33.52, 42.12)
    ax.set_xticks(LON_TICKS)
    ax.set_xticklabels(LON_LABELS)
    ax.set_yticks(LAT_TICKS)
    ax.set_yticklabels(LAT_LABELS)
    ax.tick_params(axis='x', length=0, pad=xpad, labelsize=tick_size)
    ax.tick_params(axis='y', length=0, pad=ypad, labelsize=tick_size)
    for s in ax.spines.values():
        s.set_visible(False)
    draw_frame(ax, 20 / ((right - left) / 9), 21 / ((bottom - top) / 8.6))

    fig.text(title_xy[0] / W, 1 - title_xy[1] / H, title, ha='center', va='center', fontsize=tick_size)

    lx, lw, tx, bx, title_y, rows = legend
    fig.text(lx / W, 1 - title_y / H, LEGEND_TITLE, ha='left', va='center', fontsize=LEGEND_TITLE_SIZE)
    for k, y in enumerate(rows):
        px_rect(fig, lx, y - lw / 2, lx + lw, y + lw / 2, facecolor=CLASS_COLORS[k], edgecolor='none', zorder=7)
        fig.text(tx / W, 1 - (y + 4) / H, ranges[k], ha='left', va='center', fontsize=LEGEND_SIZE)
        fig.text(bx / W, 1 - (y + 4) / H, counts[k], ha='left', va='center', fontsize=LEGEND_SIZE)


LEGEND_SIZE = 43
LEGEND_TITLE_SIZE = 41.5

fig = plt.figure(figsize=(W / 100, H / 100), dpi=100)

# grey page behind the two white panels
bg = fig.add_axes([0, 0, 1, 1], zorder=-1)
bg.axis('off')
shade = np.interp(np.arange(H), [0, 2000, H - 1], [0.957, 0.875, 0.79]).reshape(-1, 1)
bg.imshow(shade, cmap='gray', vmin=0, vmax=1, aspect='auto')
px_rect(fig, 51, 33, 2220, 2076, facecolor='white', edgecolor='none', zorder=-0.5)
px_rect(fig, 56, 2076, 2213, H, facecolor='white', edgecolor='none', zorder=-0.5)

cornell_grid = rasterize(C_LAYERS, C_CELLS)
stoch_grid = rasterize(S_LAYERS, S_CELLS)

draw_panel(fig, (314, 178, 2171, 1956), cornell_grid, CORNELL_TITLE, (1198, 89), CORNELL_RANGES, CORNELL_COUNTS,
           (1513, 32, 1638, 1966, 1426, [1522, 1616, 1709, 1803, 1895]), 45, 28, 28)
draw_panel(fig, (316, 2206, 2165, 3946), stoch_grid, STOCH_TITLE, (1236, 2128), STOCH_RANGES, STOCH_COUNTS,
           (1500, 30, 1623, 1950, 3419, [3514, 3606, 3696, 3787, 3878]), 43, 24, 27)

fig.savefig('out.png', dpi=100)
